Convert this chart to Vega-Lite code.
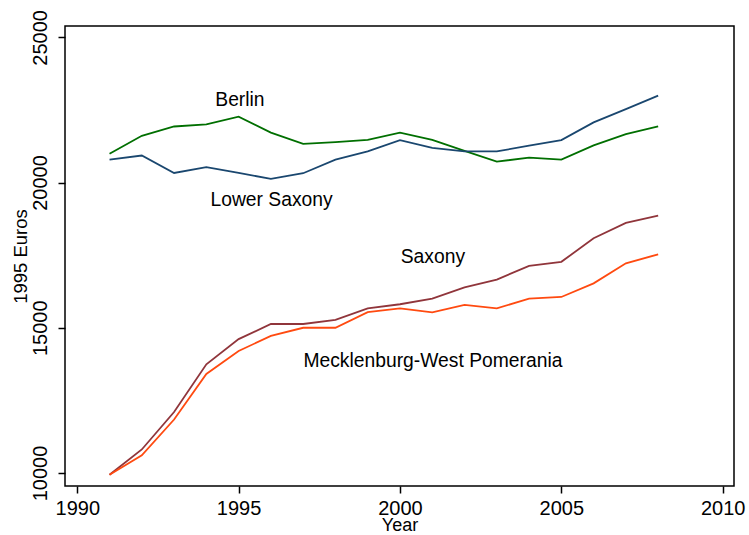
{
  "$schema": "https://vega.github.io/schema/vega-lite/v6.json",
  "width": 669,
  "height": 460,
  "autosize": "none",
  "padding": {"left": 65, "top": 26, "right": 15, "bottom": 49},
  "background": "white",
  "config": {
    "view": {"stroke": "black", "strokeWidth": 1.5},
    "font": "Liberation Sans"
  },
  "datasets": {
    "series": [
      {"state": "Berlin", "year": 1991, "gdp": 20990},
      {"state": "Berlin", "year": 1992, "gdp": 21610},
      {"state": "Berlin", "year": 1993, "gdp": 21930},
      {"state": "Berlin", "year": 1994, "gdp": 22000},
      {"state": "Berlin", "year": 1995, "gdp": 22270},
      {"state": "Berlin", "year": 1996, "gdp": 21720},
      {"state": "Berlin", "year": 1997, "gdp": 21330},
      {"state": "Berlin", "year": 1998, "gdp": 21390},
      {"state": "Berlin", "year": 1999, "gdp": 21470},
      {"state": "Berlin", "year": 2000, "gdp": 21720},
      {"state": "Berlin", "year": 2001, "gdp": 21470},
      {"state": "Berlin", "year": 2002, "gdp": 21090},
      {"state": "Berlin", "year": 2003, "gdp": 20720},
      {"state": "Berlin", "year": 2004, "gdp": 20860},
      {"state": "Berlin", "year": 2005, "gdp": 20790},
      {"state": "Berlin", "year": 2006, "gdp": 21280},
      {"state": "Berlin", "year": 2007, "gdp": 21670},
      {"state": "Berlin", "year": 2008, "gdp": 21930},
      {"state": "Lower Saxony", "year": 1991, "gdp": 20790},
      {"state": "Lower Saxony", "year": 1992, "gdp": 20930},
      {"state": "Lower Saxony", "year": 1993, "gdp": 20330},
      {"state": "Lower Saxony", "year": 1994, "gdp": 20530},
      {"state": "Lower Saxony", "year": 1995, "gdp": 20330},
      {"state": "Lower Saxony", "year": 1996, "gdp": 20130},
      {"state": "Lower Saxony", "year": 1997, "gdp": 20320},
      {"state": "Lower Saxony", "year": 1998, "gdp": 20790},
      {"state": "Lower Saxony", "year": 1999, "gdp": 21070},
      {"state": "Lower Saxony", "year": 2000, "gdp": 21460},
      {"state": "Lower Saxony", "year": 2001, "gdp": 21190},
      {"state": "Lower Saxony", "year": 2002, "gdp": 21070},
      {"state": "Lower Saxony", "year": 2003, "gdp": 21070},
      {"state": "Lower Saxony", "year": 2004, "gdp": 21270},
      {"state": "Lower Saxony", "year": 2005, "gdp": 21460},
      {"state": "Lower Saxony", "year": 2006, "gdp": 22070},
      {"state": "Lower Saxony", "year": 2007, "gdp": 22530},
      {"state": "Lower Saxony", "year": 2008, "gdp": 22990},
      {"state": "Saxony", "year": 1991, "gdp": 9940},
      {"state": "Saxony", "year": 1992, "gdp": 10810},
      {"state": "Saxony", "year": 1993, "gdp": 12100},
      {"state": "Saxony", "year": 1994, "gdp": 13740},
      {"state": "Saxony", "year": 1995, "gdp": 14610},
      {"state": "Saxony", "year": 1996, "gdp": 15130},
      {"state": "Saxony", "year": 1997, "gdp": 15130},
      {"state": "Saxony", "year": 1998, "gdp": 15270},
      {"state": "Saxony", "year": 1999, "gdp": 15670},
      {"state": "Saxony", "year": 2000, "gdp": 15810},
      {"state": "Saxony", "year": 2001, "gdp": 16000},
      {"state": "Saxony", "year": 2002, "gdp": 16390},
      {"state": "Saxony", "year": 2003, "gdp": 16660},
      {"state": "Saxony", "year": 2004, "gdp": 17130},
      {"state": "Saxony", "year": 2005, "gdp": 17270},
      {"state": "Saxony", "year": 2006, "gdp": 18080},
      {"state": "Saxony", "year": 2007, "gdp": 18610},
      {"state": "Saxony", "year": 2008, "gdp": 18860},
      {"state": "Mecklenburg-West Pomerania", "year": 1991, "gdp": 9940},
      {"state": "Mecklenburg-West Pomerania", "year": 1992, "gdp": 10610},
      {"state": "Mecklenburg-West Pomerania", "year": 1993, "gdp": 11840},
      {"state": "Mecklenburg-West Pomerania", "year": 1994, "gdp": 13410},
      {"state": "Mecklenburg-West Pomerania", "year": 1995, "gdp": 14200},
      {"state": "Mecklenburg-West Pomerania", "year": 1996, "gdp": 14720},
      {"state": "Mecklenburg-West Pomerania", "year": 1997, "gdp": 15000},
      {"state": "Mecklenburg-West Pomerania", "year": 1998, "gdp": 15000},
      {"state": "Mecklenburg-West Pomerania", "year": 1999, "gdp": 15540},
      {"state": "Mecklenburg-West Pomerania", "year": 2000, "gdp": 15670},
      {"state": "Mecklenburg-West Pomerania", "year": 2001, "gdp": 15530},
      {"state": "Mecklenburg-West Pomerania", "year": 2002, "gdp": 15790},
      {"state": "Mecklenburg-West Pomerania", "year": 2003, "gdp": 15670},
      {"state": "Mecklenburg-West Pomerania", "year": 2004, "gdp": 16000},
      {"state": "Mecklenburg-West Pomerania", "year": 2005, "gdp": 16060},
      {"state": "Mecklenburg-West Pomerania", "year": 2006, "gdp": 16530},
      {"state": "Mecklenburg-West Pomerania", "year": 2007, "gdp": 17220},
      {"state": "Mecklenburg-West Pomerania", "year": 2008, "gdp": 17530}
    ],
    "labels": [
      {"text": "Berlin", "year": 1995.04, "gdp": 22850},
      {"text": "Lower Saxony", "year": 1996.02, "gdp": 19400},
      {"text": "Saxony", "year": 2001.02, "gdp": 17440},
      {"text": "Mecklenburg-West Pomerania", "year": 2001.02, "gdp": 13850}
    ]
  },
  "layer": [
    {
      "data": {"name": "series"},
      "mark": {"type": "line", "strokeWidth": 1.8, "clip": true},
      "encoding": {
        "x": {
          "field": "year", "type": "quantitative",
          "scale": {"domain": [1989.62, 2010.35], "nice": false, "zero": false},
          "axis": {
            "title": "Year", "values": [1990, 1995, 2000, 2005, 2010], "format": "d",
            "grid": false, "domain": false, "tickSize": 7, "tickWidth": 1.5, "tickColor": "black",
            "labelFontSize": 20, "labelColor": "black", "labelPadding": 5, "labelFont": "Liberation Sans",
            "titleFontSize": 18, "titleFontWeight": "normal", "titleColor": "black", "titleFont": "Liberation Sans",
            "titleY": 39, "titleBaseline": "middle"
          }
        },
        "y": {
          "field": "gdp", "type": "quantitative",
          "scale": {"domain": [9552, 25390], "nice": false, "zero": false},
          "axis": {
            "title": "1995 Euros", "values": [10000, 15000, 20000, 25000], "format": "d",
            "grid": false, "domain": false, "tickSize": 7, "tickWidth": 1.5, "tickColor": "black",
            "labelFontSize": 20, "labelColor": "black", "labelAngle": -90, "labelAlign": "center", "labelBaseline": "bottom", "labelPadding": 8, "labelFont": "Liberation Sans",
            "titleFontSize": 18.5, "titleFontWeight": "normal", "titleColor": "black", "titleFont": "Liberation Sans",
            "titleAngle": -90, "titleX": -45, "titleY": 230, "titleAlign": "center", "titleBaseline": "middle"
          }
        },
        "color": {
          "field": "state", "type": "nominal",
          "scale": {
            "domain": ["Berlin", "Lower Saxony", "Saxony", "Mecklenburg-West Pomerania"],
            "range": ["#006f00", "#1a476f", "#90353b", "#ff4a10"]
          },
          "legend": null
        }
      }
    },
    {
      "data": {"name": "labels"},
      "mark": {"type": "text", "fontSize": 19.3, "font": "Liberation Sans", "color": "black", "align": "center", "baseline": "middle"},
      "encoding": {
        "x": {"field": "year", "type": "quantitative"},
        "y": {"field": "gdp", "type": "quantitative"},
        "text": {"field": "text"}
      }
    }
  ]
}
